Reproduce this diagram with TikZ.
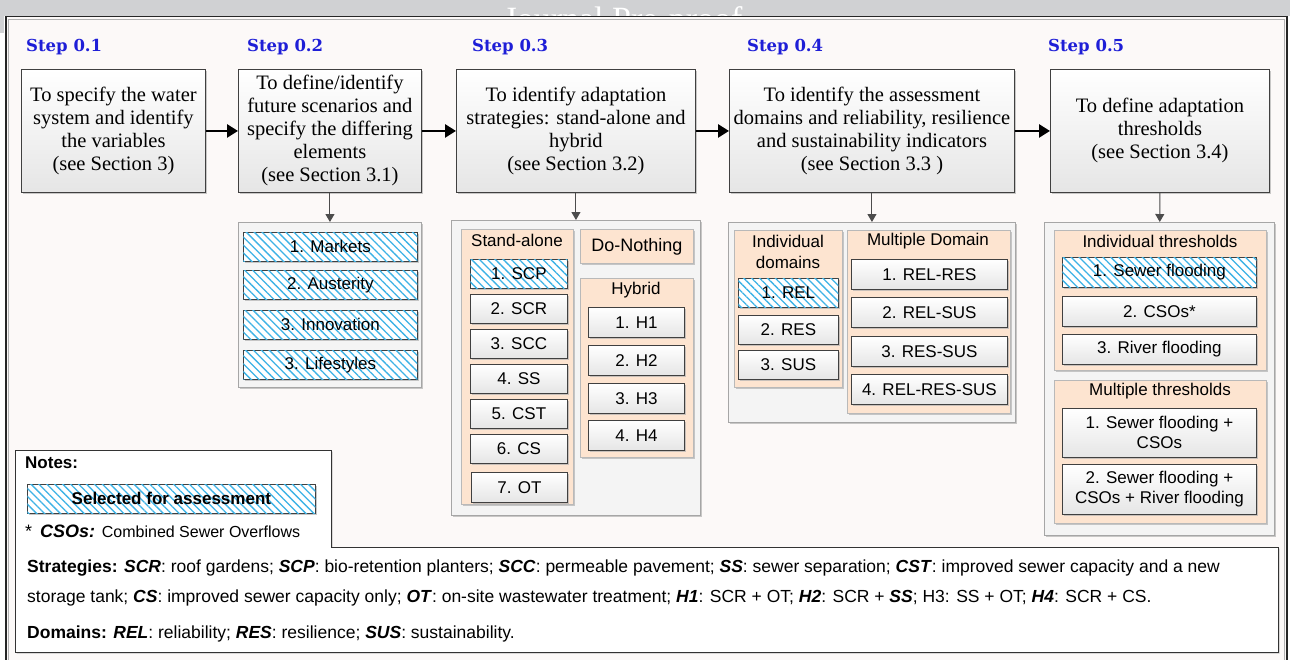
\documentclass[tikz,border=0pt]{standalone}
\usepackage{fontspec}
\setmainfont{Liberation Serif}
\setsansfont{Liberation Sans}
\newfontfamily\stepfont{DejaVu Serif}
\usetikzlibrary{positioning,arrows.meta,shadows,patterns.meta}

\definecolor{stepblue}{RGB}{30,30,215}
\definecolor{peach}{RGB}{253,228,208}
\definecolor{hatchblue}{RGB}{60,178,230}
\definecolor{paper}{RGB}{252,249,248}
\definecolor{topgrey}{RGB}{208,209,211}

\tikzset{
  boxshadow/.style={drop shadow={shadow xshift=1.5pt,shadow yshift=-1.5pt,fill=gray!60,opacity=0.7}},
  steplabel/.style={font=\stepfont\bfseries\fontsize{16.5}{19}\selectfont,text=stepblue,anchor=west,inner sep=0pt},
  stepbox/.style={draw=gray!50!black,line width=0.9pt,top color=white,bottom color=gray!20,
    align=center,font=\fontsize{20.5}{23}\selectfont,inner sep=0pt,anchor=north west,boxshadow},
  panel/.style={draw=gray!70,line width=0.9pt,fill=gray!9,anchor=north west,inner sep=0pt,boxshadow},
  group/.style={draw=gray!55,line width=0.9pt,fill=peach,anchor=north west,inner sep=0pt,boxshadow},
  grouptitle/.style={font=\sffamily\fontsize{17}{21}\selectfont,align=center,inner sep=0pt},
  item/.style={draw=gray!50!black,line width=0.8pt,top color=white,bottom color=gray!20,
    font=\sffamily\fontsize{17}{20}\selectfont,align=center,inner sep=0pt,anchor=north west,boxshadow},
  chosen/.style={draw=gray!50!black,line width=0.8pt,fill=white,
    postaction={pattern={Lines[angle=-45,distance=5.6pt,line width=1.3pt]},pattern color=hatchblue},
    font=\sffamily\fontsize{17}{20}\selectfont,align=center,inner sep=0pt,anchor=north west,boxshadow},
  bigarrow/.style={line width=2.6pt,-{Triangle[length=11pt,width=13pt]}},
  downarrow/.style={gray!60!black,line width=1pt,-{Triangle[length=8pt,width=9pt]}},
  legendtext/.style={font=\sffamily\fontsize{17.5}{20}\selectfont,anchor=west,inner sep=0pt}
}

\begin{document}
\begin{tikzpicture}[x=1pt,y=-1pt]
\useasboundingbox (0,0) rectangle (1290,659);

\fill[topgrey] (0,0) rectangle (1290,15.5);
\fill[topgrey] (0,0) rectangle (4,33);
\begin{scope}
  \clip (0,0) rectangle (1290,15.5);
  \node[text=white,font=\fontsize{34}{40}\selectfont,anchor=base] (watermark) at (623,30) {Journal Pre-proof};
\end{scope}
\draw[fill=paper,draw=gray!30!black,line width=1.6pt] (6,16.5) rectangle (1287,680);
\draw[gray!60,line width=0.6pt] (8.5,19) rectangle (1284.5,680);

% steps
\node[steplabel] (l1) at (26,47) {Step 0.1};
\node[steplabel] (l2) at (247,47) {Step 0.2};
\node[steplabel] (l3) at (472,47) {Step 0.3};
\node[steplabel] (l4) at (747,47) {Step 0.4};
\node[steplabel] (l5) at (1048,47) {Step 0.5};

\node[stepbox,minimum width=184,minimum height=123] (s1) at (21,69)
  {To specify the water\\system and identify\\the variables\\(see Section 3)};
\node[stepbox,minimum width=183,minimum height=123] (s2) at (238,69)
  {To define/identify\\future scenarios and\\specify the differing\\elements\\(see Section 3.1)};
\node[stepbox,minimum width=239,minimum height=123] (s3) at (456,69)
  {To identify adaptation\\strategies: stand-alone and\\hybrid\\(see Section 3.2)};
\node[stepbox,minimum width=285,minimum height=123] (s4) at (729,69)
  {To identify the assessment\\domains and reliability, resilience\\and sustainability indicators\\(see Section 3.3 )};
\node[stepbox,minimum width=219,minimum height=123] (s5) at (1050,69)
  {To define adaptation\\thresholds\\(see Section 3.4)};

\draw[bigarrow] (s1) -- (s2);
\draw[bigarrow] (s2) -- (s3);
\draw[bigarrow] (s3) -- (s4);
\draw[bigarrow] (s4) -- (s5);

% scenarios
\node[panel,minimum width=183,minimum height=165] (p2) at (238,222) {};
\node[chosen,minimum width=174,minimum height=29] (markets) at (243,232) {1. Markets};
\node[chosen,minimum width=174,minimum height=29] (austerity) at (243,270) {2. Austerity};
\node[chosen,minimum width=174,minimum height=29] (innovation) at (243,310) {3. Innovation};
\node[chosen,minimum width=174,minimum height=29] (lifestyles) at (243,350) {3. Lifestyles};

% strategies
\node[panel,minimum width=249,minimum height=295] (p3) at (451,220) {};
\node[group,minimum width=112,minimum height=275] (alone) at (461,229) {};
\node[grouptitle] (alonetitle) at (517,240) {Stand-alone};
\node[chosen,minimum width=97,minimum height=29] (scp) at (470,259) {1. SCP};
\node[item,minimum width=97,minimum height=29] (scr) at (470,294) {2. SCR};
\node[item,minimum width=97,minimum height=29] (scc) at (470,329) {3. SCC};
\node[item,minimum width=97,minimum height=29] (ss) at (470,364) {4. SS};
\node[item,minimum width=97,minimum height=29] (cst) at (470,399) {5. CST};
\node[item,minimum width=97,minimum height=29] (cs) at (470,434) {6. CS};
\node[item,minimum width=96,minimum height=30] (ot) at (471,472) {7. OT};
\node[group,grouptitle,anchor=north west,minimum width=113,minimum height=34,font=\sffamily\fontsize{18}{21}\selectfont] (nothing) at (580,229) {Do-Nothing};
\node[group,minimum width=113,minimum height=179] (hybrid) at (580,278) {};
\node[grouptitle] (hybridtitle) at (636,290) {Hybrid};
\node[item,minimum width=96,minimum height=30] (h1) at (588,307) {1. H1};
\node[item,minimum width=96,minimum height=30] (h2) at (588,345) {2. H2};
\node[item,minimum width=96,minimum height=30] (h3) at (588,383) {3. H3};
\node[item,minimum width=96,minimum height=30] (h4) at (588,420) {4. H4};

% domains
\node[panel,minimum width=287,minimum height=200] (p4) at (728,222) {};
\node[group,minimum width=108,minimum height=157] (single) at (734,230) {};
\node[grouptitle] (singletitle) at (788,252) {Individual\\domains};
\node[chosen,minimum width=100,minimum height=29] (rel) at (738,278) {1. REL};
\node[item,minimum width=100,minimum height=29] (res) at (738,315) {2. RES};
\node[item,minimum width=100,minimum height=29] (sus) at (738,350) {3. SUS};
\node[group,minimum width=163,minimum height=183] (multi) at (847,230) {};
\node[grouptitle] (multititle) at (928,241) {Multiple Domain};
\node[item,minimum width=156,minimum height=30] (relres) at (851,259) {1. REL-RES};
\node[item,minimum width=156,minimum height=30] (relsus) at (851,297) {2. REL-SUS};
\node[item,minimum width=156,minimum height=30] (ressus) at (851,336) {3. RES-SUS};
\node[item,minimum width=156,minimum height=30] (all) at (851,374) {4. REL-RES-SUS};

% thresholds
\node[panel,minimum width=230,minimum height=313] (p5) at (1044,222) {};
\node[group,minimum width=212,minimum height=140] (tsingle) at (1054,230) {};
\node[grouptitle] (tsingletitle) at (1160,241) {Individual thresholds};
\node[chosen,minimum width=194,minimum height=30] (sewer) at (1062,257) {1. Sewer flooding};
\node[item,minimum width=194,minimum height=30] (csos) at (1062,296) {2. CSOs*};
\node[item,minimum width=194,minimum height=30] (river) at (1062,334) {3. River flooding};
\node[group,minimum width=212,minimum height=143] (tmulti) at (1054,380) {};
\node[grouptitle] (tmultititle) at (1160,391) {Multiple thresholds};
\node[item,minimum width=194,minimum height=49] (sewercsos) at (1062,408) {1. Sewer flooding +\\CSOs};
\node[item,minimum width=194,minimum height=50] (allthree) at (1062,464) {2. Sewer flooding +\\CSOs + River flooding};

\draw[downarrow] (s2) -- (p2);
\draw[downarrow] (s3) -- (p3);
\draw[downarrow] (s4) -- (p4);
\draw[downarrow] (s5) -- (p5);

% notes
\draw[fill=white,draw=gray!40!black,line width=1pt,boxshadow]
  (15,450) -- (331,450) -- (331,547) -- (1278,547) -- (1278,652) -- (15,652) -- cycle;
\node[legendtext,font=\sffamily\bfseries\fontsize{17}{20}\selectfont] (notes) at (25,463) {Notes:};
\node[chosen,font=\sffamily\bfseries\fontsize{17}{20}\selectfont,minimum width=288,minimum height=29] (selected) at (27,484) {Selected for assessment};
\node[legendtext,font=\sffamily\fontsize{16}{19}\selectfont] (cso) at (25,531) {\fontsize{18}{20}\selectfont*\, \textbf{\textit{CSOs:}} \fontsize{16}{19}\selectfont Combined Sewer Overflows};
\node[legendtext] (strat1) at (27,568) {\textbf{Strategies:} \textbf{\textit{SCR}}: roof gardens; \textbf{\textit{SCP}}: bio-retention planters; \textbf{\textit{SCC}}: permeable pavement; \textbf{\textit{SS}}: sewer separation; \textbf{\textit{CST}}: improved sewer capacity and a new};
\node[legendtext] (strat2) at (27,598) {storage tank; \textbf{\textit{CS}}: improved sewer capacity only; \textbf{\textit{OT}}: on-site wastewater treatment; \textbf{\textit{H1}}: SCR + OT; \textbf{\textit{H2}}: SCR + \textbf{\textit{SS}}; H3: SS + OT; \textbf{\textit{H4}}: SCR + CS.};
\node[legendtext] (domains) at (27,634) {\textbf{Domains:} \textbf{\textit{REL}}: reliability; \textbf{\textit{RES}}: resilience; \textbf{\textit{SUS}}: sustainability.};
\end{tikzpicture}
\end{document}
